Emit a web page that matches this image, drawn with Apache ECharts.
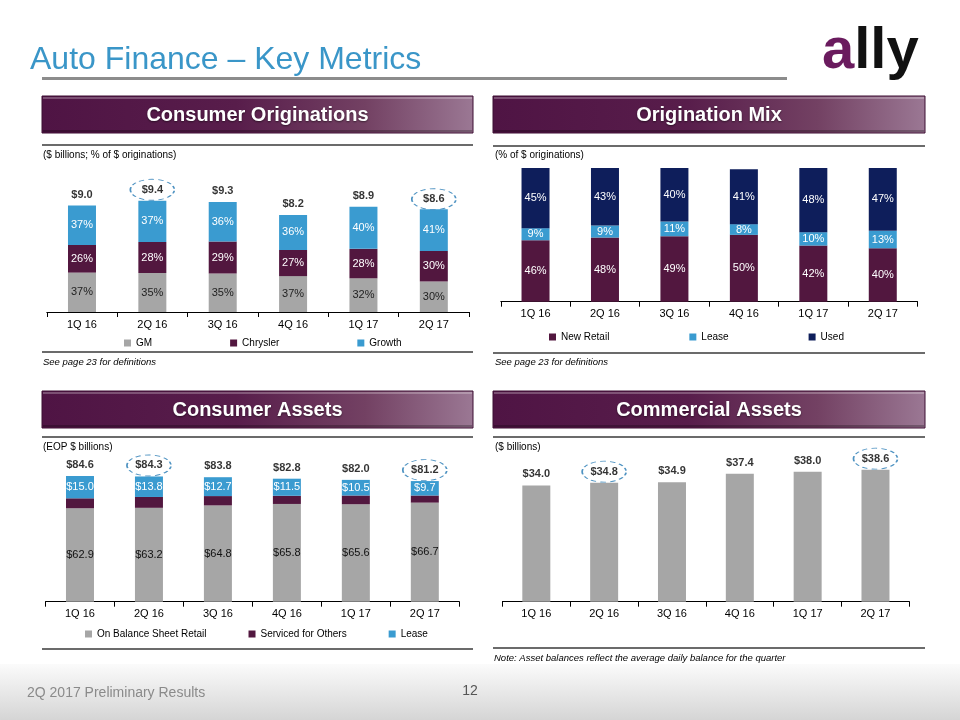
<!DOCTYPE html>
<html>
<head>
<meta charset="utf-8">
<script src="https://cdn.jsdelivr.net/npm/echarts@6/dist/echarts.min.js"></script>
<style>
  html, body { margin: 0; padding: 0; background: #ffffff; }
  #main { width: 960px; height: 720px; }
</style>
</head>
<body>
<div id="main"></div>
<script>
// ---------------- DATA ----------------
const categories = ['1Q 16', '2Q 16', '3Q 16', '4Q 16', '1Q 17', '2Q 17'];
const highlighted = ['2Q 16', '2Q 17'];

// Consumer Originations ($ billions; % of $ originations)
const origTotals = [9.0, 9.4, 9.3, 8.2, 8.9, 8.6];
const origGMPct = [37, 35, 35, 37, 32, 30];
const origChryslerPct = [26, 28, 29, 27, 28, 30];
const origGrowthPct = [37, 37, 36, 36, 40, 41];

// Origination Mix (% of $ originations)
const mixNewRetail = [46, 48, 49, 50, 42, 40];
const mixLease = [9, 9, 11, 8, 10, 13];
const mixUsed = [45, 43, 40, 41, 48, 47];

// Consumer Assets (EOP $ billions)
const assetsTotals = [84.6, 84.3, 83.8, 82.8, 82.0, 81.2];
const assetsRetail = [62.9, 63.2, 64.8, 65.8, 65.6, 66.7];
const assetsServiced = [6.7, 7.3, 6.3, 5.5, 5.9, 4.8];
const assetsLease = [15.0, 13.8, 12.7, 11.5, 10.5, 9.7];

// Commercial Assets ($ billions)
const commercialTotals = [34.0, 34.8, 34.9, 37.4, 38.0, 38.6];

// ---------------- STYLE ----------------
const C_GRAY = '#a6a6a6';
const C_PURPLE = '#52173f';
const C_BLUE = '#3a9bd0';
const C_NAVY = '#0e1e5b';
const FONT = 'Arial, "Liberation Sans", sans-serif';

const chart = echarts.init(document.getElementById('main'), null, { renderer: 'canvas' });

function xAxis(gi) {
  return {
    type: 'category', gridIndex: gi, data: categories,
    axisLine: { lineStyle: { color: '#000', width: 1 } },
    axisTick: { show: true, length: 5, lineStyle: { color: '#000' } },
    axisLabel: { color: '#000', fontSize: 11, fontFamily: FONT, margin: 7, interval: 0 },
    splitLine: { show: false }
  };
}
function yAxis(gi, max) {
  return { type: 'value', gridIndex: gi, min: 0, max: max, show: false, splitLine: { show: false } };
}
function stackBar(name, gi, data, color, label) {
  return {
    type: 'bar', name: name, xAxisIndex: gi, yAxisIndex: gi, stack: 'stack' + gi,
    barWidth: 28, data: data, itemStyle: { color: color },
    label: label || { show: false }, silent: true, animation: false
  };
}
function insideLabel(color, fmt, size) {
  return { show: true, position: 'inside', color: color, fontSize: size || 11, fontFamily: FONT, formatter: fmt };
}
const ELLIPSE = 'path://M0 50 A100 50 0 1 0 200 50 A100 50 0 1 0 0 50 Z';
function totalsSeries(name, gi, totals) {
  return {
    type: 'scatter', name: name, xAxisIndex: gi, yAxisIndex: gi,
    data: categories.map((c, i) => [c, totals[i]]),
    symbolSize: 1, itemStyle: { color: 'rgba(0,0,0,0)' }, silent: true, animation: false, z: 5,
    label: {
      show: true, position: 'top', distance: 5, color: '#000', fontWeight: 'bold',
      fontSize: 11, fontFamily: FONT, formatter: p => '$' + p.value[1].toFixed(1)
    },
    markPoint: {
      symbol: ELLIPSE, symbolSize: [44, 21], symbolOffset: [0, -11], silent: true,
      itemStyle: { color: 'rgba(0,0,0,0)', borderColor: '#4f93c2', borderWidth: 1.2, borderType: [4, 3] },
      label: { show: false },
      data: highlighted.map(c => ({ coord: [c, totals[categories.indexOf(c)]] }))
    }
  };
}
function pctFmt(arr) { return p => arr[p.dataIndex] + '%'; }
function dollarFmt(arr) { return p => '$' + arr[p.dataIndex].toFixed(1); }

const origGM = origTotals.map((t, i) => t * origGMPct[i] / 100);
const origChrysler = origTotals.map((t, i) => t * origChryslerPct[i] / 100);
const origGrowth = origTotals.map((t, i) => t * origGrowthPct[i] / 100);

// ---------------- DECORATION ----------------
function header(x, y, w, text) {
  return [
    { type: 'rect', shape: { x: x, y: y, width: w, height: 37 },
      style: { fill: new echarts.graphic.LinearGradient(0, 0, 1, 0, [
        { offset: 0, color: '#4f1444' }, { offset: 0.45, color: '#581d4b' },
        { offset: 0.75, color: '#734163' }, { offset: 1, color: '#9b7894' }]),
        stroke: '#3c0e33', lineWidth: 1 } },
    { type: 'rect', shape: { x: x + 1, y: y + 1, width: w - 2, height: 2 }, style: { fill: 'rgba(255,255,255,0.25)' } },
    { type: 'rect', shape: { x: x + 1, y: y + 34, width: w - 2, height: 2 }, style: { fill: 'rgba(0,0,0,0.25)' } },
    { type: 'text', x: x + w / 2, y: y + 19,
      style: { text: text, fill: '#fff', font: 'bold 20px ' + FONT, align: 'center', verticalAlign: 'middle',
        textShadowColor: 'rgba(0,0,0,0.5)', textShadowBlur: 2, textShadowOffsetY: 1 } }
  ];
}
function hline(x1, x2, y) {
  return { type: 'line', shape: { x1: x1, y1: y, x2: x2, y2: y }, style: { stroke: '#3a3a3a', lineWidth: 1.5 } };
}
function txt(x, y, text, font, fill, align) {
  return { type: 'text', x: x, y: y, style: { text: text, font: font, fill: fill || '#000', align: align || 'left', verticalAlign: 'middle' } };
}

const graphic = [].concat(
  [
    { type: 'rect', shape: { x: 0, y: 664, width: 960, height: 56 },
      style: { fill: new echarts.graphic.LinearGradient(0, 0, 0, 1, [
        { offset: 0, color: '#fbfbfb' }, { offset: 1, color: '#d5d5d5' }]) } },
    txt(27, 693, '2Q 2017 Preliminary Results', '14px ' + FONT, '#8a8a8a'),
    txt(470, 691, '12', '14px ' + FONT, '#555', 'center'),
    txt(30, 60, 'Auto Finance – Key Metrics', '32px ' + FONT, '#3a96c8'),
    { type: 'rect', shape: { x: 42, y: 77, width: 745, height: 3 }, style: { fill: '#8c8c8c' } },
    { type: 'text', x: 822, y: 52,
      style: { text: '{a|a}{b|lly}', verticalAlign: 'middle',
        rich: { a: { fill: '#6a1b5e', fontSize: 58, fontWeight: 'bold', fontFamily: FONT },
                b: { fill: '#111', fontSize: 58, fontWeight: 'bold', fontFamily: FONT } } } }
  ],
  header(42, 96, 431, 'Consumer Originations'),
  header(493, 96, 432, 'Origination Mix'),
  header(42, 391, 431, 'Consumer Assets'),
  header(493, 391, 432, 'Commercial Assets'),
  [
    hline(42, 473, 145), hline(493, 925, 146), hline(42, 473, 437), hline(493, 925, 437),
    hline(42, 473, 352), hline(493, 925, 353), hline(42, 473, 649), hline(493, 925, 648),
    txt(43, 155, '($ billions; % of $ originations)', '10px ' + FONT),
    txt(495, 155, '(% of $ originations)', '10px ' + FONT),
    txt(43, 447, '(EOP $ billions)', '10px ' + FONT),
    txt(495, 447, '($ billions)', '10px ' + FONT),
    txt(43, 362, 'See page 23 for definitions', 'italic 9.5px ' + FONT),
    txt(495, 362, 'See page 23 for definitions', 'italic 9.5px ' + FONT),
    txt(494, 658, 'Note: Asset balances reflect the average daily balance for the quarter', 'italic 9.5px ' + FONT)
  ]
);

function legend(left, top, names, gap) {
  return {
    left: left, top: top, data: names, icon: 'rect', itemWidth: 7, itemHeight: 7, itemGap: gap,
    selectedMode: false, textStyle: { color: '#000', fontSize: 10, fontFamily: FONT }, padding: 0
  };
}

const option = {
  backgroundColor: '#ffffff',
  animation: false,
  graphic: graphic,
  grid: [
    { left: 46.8, right: 491, top: 170, bottom: 408 },
    { left: 500.8, right: 42.5, top: 168, bottom: 418.3 },
    { left: 45.5, right: 500.7, top: 468, bottom: 118.3 },
    { left: 502.4, right: 50.6, top: 464.9, bottom: 118.3 }
  ],
  xAxis: [xAxis(0), xAxis(1), xAxis(2), xAxis(3)],
  yAxis: [yAxis(0, 12), yAxis(1, 100), yAxis(2, 90), yAxis(3, 40)],
  legend: [
    legend(124, 338, ['GM', 'Chrysler', 'Growth'], 78),
    legend(549, 332, ['New Retail', 'Lease', 'Used'], 80),
    legend(85, 629, ['On Balance Sheet Retail', 'Serviced for Others', 'Lease'], 42)
  ],
  series: [
    stackBar('GM', 0, origGM, C_GRAY, insideLabel('#222', pctFmt(origGMPct))),
    stackBar('Chrysler', 0, origChrysler, C_PURPLE, insideLabel('#fff', pctFmt(origChryslerPct))),
    stackBar('Growth', 0, origGrowth, C_BLUE, insideLabel('#fff', pctFmt(origGrowthPct))),
    totalsSeries('Total Originations', 0, origTotals),

    stackBar('New Retail', 1, mixNewRetail, C_PURPLE, insideLabel('#fff', pctFmt(mixNewRetail))),
    stackBar('Lease', 1, mixLease, C_BLUE, insideLabel('#fff', pctFmt(mixLease))),
    stackBar('Used', 1, mixUsed, C_NAVY, insideLabel('#fff', pctFmt(mixUsed))),

    stackBar('On Balance Sheet Retail', 2, assetsRetail, C_GRAY, insideLabel('#111', dollarFmt(assetsRetail))),
    stackBar('Serviced for Others', 2, assetsServiced, C_PURPLE),
    stackBar('Lease', 2, assetsLease, C_BLUE, insideLabel('#fff', dollarFmt(assetsLease))),
    totalsSeries('Total Consumer Assets', 2, assetsTotals),

    stackBar('Commercial Assets', 3, commercialTotals, C_GRAY),
    totalsSeries('Total Commercial Assets', 3, commercialTotals)
  ]
};
chart.setOption(option);
</script>
</body>
</html>
